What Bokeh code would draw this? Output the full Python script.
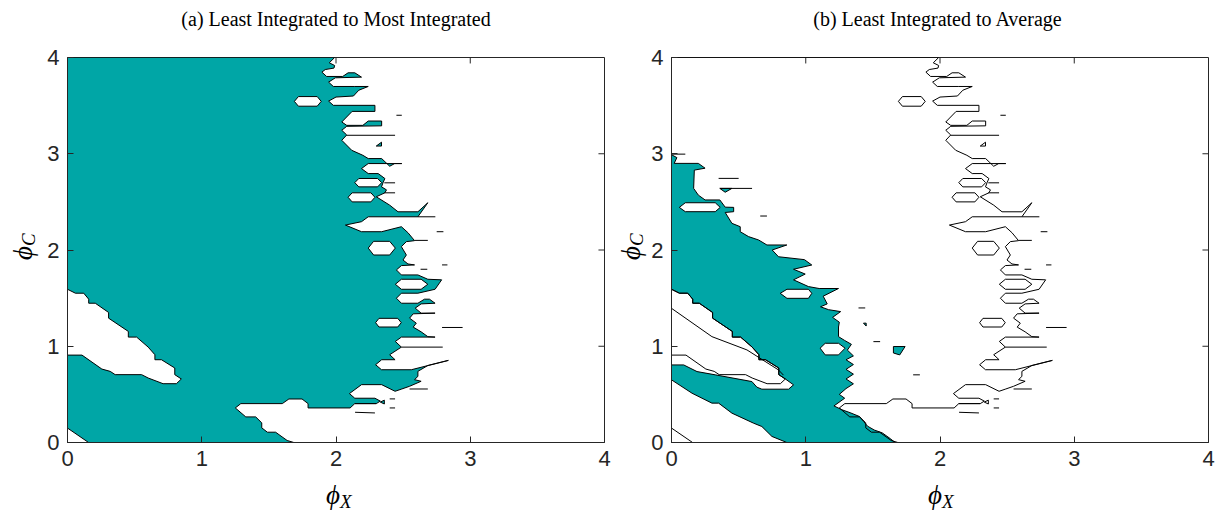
import math
from bokeh.plotting import figure
from bokeh.layouts import row, column
from bokeh.models import Range1d, FixedTicker
from bokeh.core.properties import value
from bokeh.embed import file_html
from bokeh.resources import INLINE

TITLES = ["(a) Least Integrated to Most Integrated", "(b) Least Integrated to Average"]
TICKS = [0, 1, 2, 3, 4]
XLABEL = ("ϕ", "X")
YLABEL = ("ϕ", "C")

# ---- panel (a): teal region (phi_X, phi_C) boundary
A_MAIN_X = [0.000, 1.990, 1.950, 1.990, 1.985, 1.920, 1.895, 1.930, 2.050, 2.090, 2.140, 2.190, 1.995,
            1.945, 1.980, 2.140, 2.240, 2.170, 2.130, 2.000, 1.945, 1.980, 2.290, 2.290, 2.120,
            2.043, 2.080, 2.200, 2.240, 2.340, 2.340, 2.080, 2.043, 2.080, 2.043, 2.117, 2.200,
            2.240, 2.340, 2.400, 2.437, 2.490, 2.240, 2.190, 2.240, 2.314, 2.364, 2.350, 2.339,
            2.376, 2.364, 2.300, 2.400, 2.462, 2.610, 2.684, 2.610, 2.240, 2.190, 2.070, 2.190,
            2.340, 2.487, 2.536, 2.585, 2.524, 2.487, 2.524, 2.499, 2.536, 2.585, 2.487, 2.450,
            2.487, 2.610, 2.684, 2.787, 2.738, 2.610, 2.487, 2.450, 2.487, 2.610, 2.659, 2.696,
            2.738, 2.634, 2.590, 2.634, 2.738, 2.575, 2.548, 2.598, 2.575, 2.634, 2.684, 2.738,
            2.487, 2.442, 2.487, 2.400, 2.440, 2.340, 2.295, 2.339, 2.561, 2.837, 2.684, 2.610,
            2.610, 2.585, 2.634, 2.548, 2.490, 2.440, 2.340, 2.190, 2.100, 2.140, 2.290, 2.330,
            2.300, 2.140, 2.105, 1.792, 1.792, 1.747, 1.649, 1.600, 1.291, 1.250, 1.328, 1.402,
            1.447, 1.447, 1.489, 1.550, 1.636, 1.686, 0.157, 0.000]
A_MAIN_Y = [4.000, 4.000, 3.945, 3.917, 3.890, 3.875, 3.848, 3.803, 3.803, 3.841, 3.841, 3.796, 3.789,
            3.744, 3.699, 3.699, 3.699, 3.660, 3.600, 3.589, 3.547, 3.503, 3.503, 3.440, 3.440,
            3.330, 3.295, 3.295, 3.340, 3.340, 3.290, 3.285, 3.244, 3.195, 3.140, 3.036, 2.984,
            2.950, 2.950, 2.870, 2.898, 2.898, 2.898, 2.846, 2.794, 2.794, 2.743, 2.698, 2.656,
            2.625, 2.594, 2.553, 2.466, 2.397, 2.397, 2.491, 2.345, 2.345, 2.294, 2.259, 2.190,
            2.190, 2.242, 2.180, 2.097, 2.087, 2.035, 1.948, 1.896, 1.855, 1.845, 1.838, 1.793,
            1.741, 1.741, 1.696, 1.690, 1.592, 1.551, 1.551, 1.499, 1.447, 1.447, 1.489, 1.489,
            1.447, 1.440, 1.396, 1.344, 1.344, 1.337, 1.292, 1.240, 1.199, 1.150, 1.100, 1.095,
            1.095, 1.050, 0.991, 0.912, 0.860, 0.860, 0.808, 0.756, 0.756, 0.853, 0.800, 0.739,
            0.687, 0.653, 0.636, 0.584, 0.556, 0.532, 0.601, 0.601, 0.508, 0.460, 0.460, 0.430,
            0.404, 0.404, 0.359, 0.359, 0.404, 0.452, 0.452, 0.404, 0.404, 0.359, 0.266, 0.266,
            0.204, 0.152, 0.107, 0.107, 0.021, 0.000, 0.000, 0.150]

# white holes inside the teal region of panel (a)
A_HOLES_X = [
    [0.000, 0.059, 0.121, 0.158, 0.158, 0.207, 0.306, 0.306, 0.453, 0.453, 0.515, 0.601, 0.651, 0.651,
     0.700, 0.799, 0.799, 0.848, 0.811, 0.712, 0.601, 0.552, 0.355, 0.318, 0.256, 0.108, 0.000],
    [1.690, 1.720, 1.860, 1.890, 1.860, 1.720],
    [2.140, 2.170, 2.310, 2.340, 2.310, 2.170],
    [2.090, 2.120, 2.260, 2.290, 2.260, 2.120],
    [2.240, 2.280, 2.400, 2.442, 2.400, 2.280],
    [2.295, 2.320, 2.460, 2.486, 2.460, 2.320],
    [2.442, 2.487, 2.634, 2.684, 2.634, 2.487],
]
A_HOLES_Y = [
    [1.592, 1.551, 1.551, 1.489, 1.447, 1.447, 1.351, 1.292, 1.154, 1.095, 1.095, 0.991, 0.912, 0.860,
     0.860, 0.774, 0.705, 0.660, 0.611, 0.611, 0.670, 0.705, 0.705, 0.739, 0.763, 0.908, 0.908],
    [3.544, 3.594, 3.594, 3.544, 3.494, 3.494],
    [2.700, 2.743, 2.743, 2.700, 2.656, 2.656],
    [2.548, 2.594, 2.594, 2.548, 2.500, 2.500],
    [2.020, 2.090, 2.090, 2.020, 1.948, 1.948],
    [1.245, 1.290, 1.290, 1.245, 1.200, 1.200],
    [1.644, 1.696, 1.696, 1.644, 1.592, 1.592],
]
A_ISLANDS_X = [[2.300, 2.339, 2.339], [2.330, 2.360, 2.360]]
A_ISLANDS_Y = [[3.080, 3.120, 3.080], [0.420, 0.440, 0.400]]

A_STUBS_X = [[2.080, 2.440], [2.450, 2.490], [2.360, 2.440], [2.360, 2.440], [2.610, 2.740],
             [2.750, 2.800], [2.585, 2.684], [2.630, 2.680], [2.790, 2.830], [2.790, 2.943],
             [2.487, 2.795], [2.548, 2.684], [2.140, 2.300], [2.400, 2.440], [2.400, 2.440],
             [2.142, 2.290]]
A_STUBS_Y = [[3.192, 3.192], [3.400, 3.400], [2.698, 2.698], [2.594, 2.594], [2.345, 2.345],
             [2.190, 2.190], [2.100, 2.100], [1.800, 1.800], [1.845, 1.845], [1.195, 1.195],
             [0.991, 0.991], [0.556, 0.556], [0.404, 0.404], [0.453, 0.453], [0.359, 0.359],
             [0.314, 0.307]]

# ---- panel (b): teal band
B_MAIN_X = [0.000, 0.040, 0.020, 0.200, 0.250, 0.170, 0.165, 0.200, 0.250, 0.360, 0.400, 0.463, 0.463,
            0.400, 0.450, 0.512, 0.512, 0.574, 0.649, 0.711, 0.859, 0.750, 0.797, 0.990, 1.045,
            0.909, 0.996, 0.909, 1.020, 1.100, 1.244, 1.130, 1.160, 1.110, 1.170, 1.260, 1.200,
            1.250, 1.244, 1.244, 1.290, 1.340, 1.310, 1.355, 1.300, 1.355, 1.300, 1.355, 1.300,
            1.355, 1.300, 1.250, 1.290, 1.210, 1.270, 1.330, 1.400, 1.430, 1.460, 1.510, 1.570,
            1.630, 1.665, 0.859, 0.748, 0.673, 0.611, 0.450, 0.351, 0.301, 0.153, 0.000, 0.000,
            0.091, 0.190, 0.326, 0.599, 0.636, 0.673, 0.872, 0.909,
            0.848, 0.799, 0.799, 0.700, 0.651, 0.651, 0.601, 0.515, 0.453, 0.453, 0.306, 0.306,
            0.207, 0.158, 0.158, 0.121, 0.059, 0.000]
B_MAIN_Y = [2.990, 2.960, 2.900, 2.900, 2.850, 2.830, 2.640, 2.570, 2.520, 2.520, 2.445, 2.443, 2.398,
            2.390, 2.277, 2.242, 2.190, 2.139, 2.104, 2.052, 2.052, 2.000, 1.930, 1.900, 1.844,
            1.800, 1.750, 1.690, 1.620, 1.600, 1.600, 1.520, 1.440, 1.410, 1.380, 1.360, 1.300,
            1.250, 1.200, 1.100, 1.060, 1.020, 0.960, 0.900, 0.860, 0.810, 0.760, 0.710, 0.660,
            0.610, 0.560, 0.500, 0.460, 0.380, 0.340, 0.310, 0.270, 0.220, 0.170, 0.130, 0.100,
            0.040, 0.000, 0.000, 0.063, 0.166, 0.201, 0.305, 0.409, 0.409, 0.512, 0.651, 0.806,
            0.806, 0.737, 0.703, 0.633, 0.575, 0.554, 0.554, 0.599,
            0.660, 0.705, 0.774, 0.860, 0.860, 0.912, 0.991, 1.095, 1.095, 1.154, 1.292, 1.351,
            1.447, 1.447, 1.489, 1.551, 1.551, 1.592]

B_HOLES_X = [[0.058, 0.103, 0.326, 0.363, 0.326, 0.103],
             [0.810, 0.860, 1.020, 1.045, 1.020, 0.860],
             [1.107, 1.145, 1.244, 1.293, 1.244, 1.145]]
B_HOLES_Y = [[2.443, 2.491, 2.491, 2.443, 2.398, 2.398],
             [1.550, 1.592, 1.592, 1.550, 1.498, 1.498],
             [0.980, 1.031, 1.031, 0.980, 0.910, 0.910]]
B_ISLANDS_X = [[0.360, 0.450, 0.400], [1.430, 1.450, 1.450], [1.653, 1.740, 1.700, 1.653]]
B_ISLANDS_Y = [[2.640, 2.640, 2.600], [1.240, 1.240, 1.210], [0.997, 0.997, 0.910, 0.930]]
B_LINES_X = [[0.000, 0.301, 0.562, 0.797, 0.834], [0.000, 0.103], [0.351, 0.500], [0.360, 0.600],
             [0.661, 0.711], [1.393, 1.443], [1.504, 1.554], [1.800, 1.850]]
B_LINES_Y = [[1.394, 1.100, 0.962, 0.754, 0.700], [2.996, 2.996], [2.744, 2.744], [2.640, 2.640],
             [2.353, 2.353], [1.398, 1.398], [1.048, 1.048], [0.703, 0.703]]

TEAL = "#00a6a6"
AX = "#262626"
SANS = "Liberation Sans"
SERIF = "Liberation Serif"

FW, FH = 537, 385
TITLE_H = 40
TOP, BOT = 57 - TITLE_H, 36
XLAB_H = 515 - TITLE_H - TOP - FH - BOT
TICK_DX, TICK_DY = 0.045, 0.062


def make_panel(left, right):
    p = figure(frame_width=FW, frame_height=FH, x_range=Range1d(0, 4), y_range=Range1d(0, 4),
               output_backend="svg", toolbar_location=None,
               min_border_left=left, min_border_right=right, min_border_top=TOP, min_border_bottom=BOT)
    p.xgrid.visible = False
    p.ygrid.visible = False
    p.outline_line_color = AX
    p.outline_line_width = 1
    for ax in p.axis:
        ax.ticker = FixedTicker(ticks=TICKS)
        ax.minor_tick_line_color = None
        ax.major_tick_in = 6
        ax.major_tick_out = 0
        ax.axis_line_color = AX
        ax.major_tick_line_color = AX
        ax.major_label_text_font = SANS
        ax.major_label_text_font_size = "22px"
        ax.major_label_text_color = AX
    p.xaxis.major_label_standoff = 8
    p.yaxis.major_label_standoff = 8
    # ticks on the top and right sides of the box
    inner = TICKS[1:-1]
    p.segment(x0=inner, y0=[4] * len(inner), x1=inner, y1=[4 - TICK_DY] * len(inner),
              line_color=AX, line_width=1)
    p.segment(x0=[4] * len(inner), y0=inner, x1=[4 - TICK_DX] * len(inner), y1=inner,
              line_color=AX, line_width=1)
    return p


def strip_fig(left, right, height):
    f = figure(frame_width=FW, frame_height=height, x_range=Range1d(0, 4), y_range=Range1d(0, 1),
               output_backend="svg", toolbar_location=None, x_axis_type=None, y_axis_type=None,
               min_border_left=left, min_border_right=right, min_border_top=0, min_border_bottom=0)
    f.outline_line_color = None
    return f


def title_fig(title, left, right):
    f = strip_fig(left, right, TITLE_H)
    f.text(x=[2.0], y=[0.55], text=[title], text_font=value(SERIF), text_font_size="20px",
           text_align="center", text_baseline="middle", text_color="black")
    return f


def xlabel_fig(left, right):
    f = strip_fig(left, right, XLAB_H)
    f.text(x=[2.0], y=[0.55], text=[XLABEL[0]], text_font=value(SERIF), text_font_style="italic",
           text_font_size="27px", text_align="right", text_baseline="middle", x_offset=4)
    f.text(x=[2.0], y=[0.55], text=[XLABEL[1]], text_font=value(SERIF), text_font_style="italic",
           text_font_size="19px", text_align="left", text_baseline="middle", x_offset=4, y_offset=6)
    return f


def ylabel_fig(width, xpos):
    f = figure(frame_width=width, frame_height=FH, x_range=Range1d(0, width), y_range=Range1d(0, 4),
               output_backend="svg", toolbar_location=None, x_axis_type=None, y_axis_type=None,
               min_border_left=0, min_border_right=0, min_border_top=TOP, min_border_bottom=BOT)
    f.outline_line_color = None
    f.text(x=[xpos], y=[2.0], text=[YLABEL[0]], text_font=value(SERIF), text_font_style="italic",
           text_font_size="27px", text_align="right", text_baseline="middle", angle=math.pi / 2,
           y_offset=-4)
    f.text(x=[xpos], y=[2.0], text=[YLABEL[1]], text_font=value(SERIF), text_font_style="italic",
           text_font_size="19px", text_align="left", text_baseline="middle", angle=math.pi / 2,
           x_offset=6, y_offset=-4)
    return f


pa = make_panel(27, 8)
pa.patch(A_MAIN_X, A_MAIN_Y, fill_color=TEAL, line_color="black", line_width=1)
pa.patches(A_HOLES_X, A_HOLES_Y, fill_color="white", line_color="black", line_width=1)
pa.patches(A_ISLANDS_X, A_ISLANDS_Y, fill_color=TEAL, line_color="black", line_width=1)
pa.multi_line(A_STUBS_X, A_STUBS_Y, line_color="black", line_width=1)

pb = make_panel(21, 9)
pb.patch(B_MAIN_X, B_MAIN_Y, fill_color=TEAL, line_color="black", line_width=1)
pb.patches(B_HOLES_X, B_HOLES_Y, fill_color="white", line_color="black", line_width=1)
pb.patches(B_ISLANDS_X, B_ISLANDS_Y, fill_color=TEAL, line_color="black", line_width=1)
pb.multi_line(B_LINES_X, B_LINES_Y, line_color="black", line_width=1)
# contours of panel (a) drawn as plain lines in panel (b)
pb.patch(A_MAIN_X, A_MAIN_Y, fill_color=None, line_color="black", line_width=1)
pb.patches(A_HOLES_X, A_HOLES_Y, fill_color=None, line_color="black", line_width=1)
pb.patches(A_ISLANDS_X, A_ISLANDS_Y, fill_color=None, line_color="black", line_width=1)
pb.multi_line(A_STUBS_X, A_STUBS_Y, line_color="black", line_width=1)

ta = title_fig(TITLES[0], 67, 8)
tb = title_fig(TITLES[1], 57, 9)
ya = ylabel_fig(40, 22)
yb = ylabel_fig(36, 18)
xa = xlabel_fig(67, 8)
xb = xlabel_fig(57, 9)

layout = row(column(ta, row(ya, pa), xa), column(tb, row(yb, pb), xb))
open("out.html", "w").write(file_html(layout, INLINE))
